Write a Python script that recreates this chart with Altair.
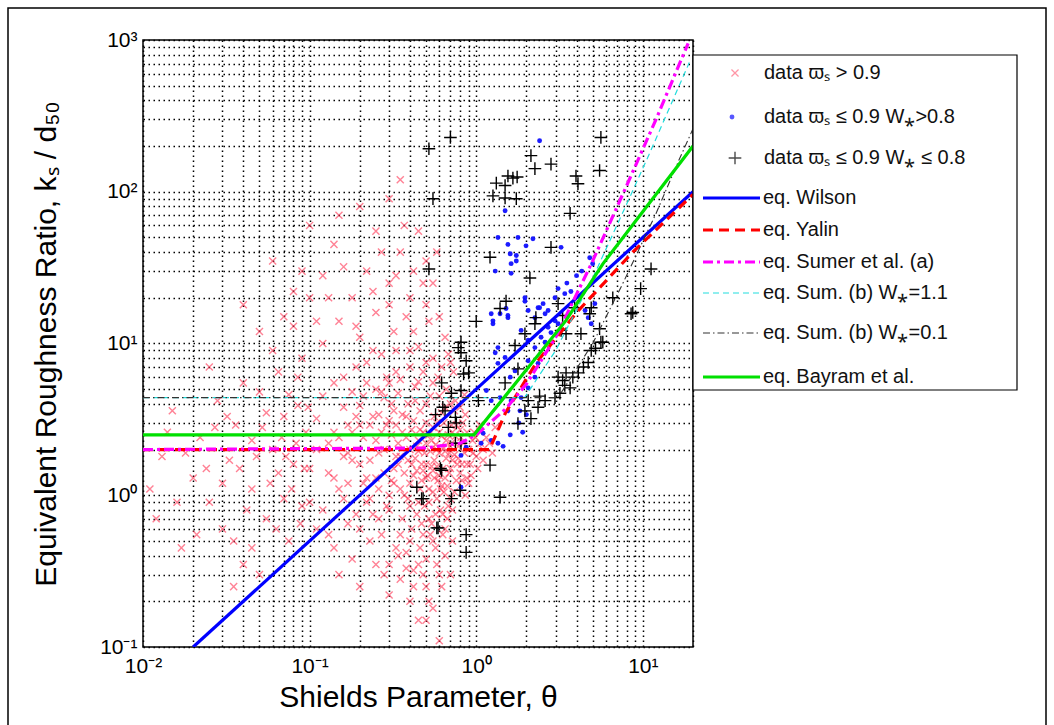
import altair as alt
import pandas as pd

# ---------------- data ----------------
red_points = [
    (0.35,1.8),(0.38,2.4),(0.4,1.2),(0.42,3.1),(0.45,0.9),(0.47,1.6),(0.5,2.2),(0.52,1.1),(0.55,2.8),(0.57,0.75),
    (0.6,1.9),(0.62,3.5),(0.65,1.3),(0.68,2.5),(0.7,0.95),(0.72,1.7),(0.75,4.2),(0.78,2.1),(0.8,1.4),(0.83,3.0),
    (0.85,1.9),(0.88,2.6),(0.9,1.2),(0.95,2.3),(1.0,1.8),(1.05,2.9),(1.1,2.0),(0.36,0.7),(0.41,0.6),(0.44,1.45),
    (0.48,0.55),(0.51,1.35),(0.54,0.65),(0.58,1.55),(0.61,0.8),(0.64,2.05),(0.67,1.15),(0.71,2.9),(0.74,1.05),(0.77,1.6),
    (0.81,2.4),(0.86,1.0),(0.92,1.6),(0.97,2.6),(0.33,2.9),(0.39,4.0),(0.43,5.2),(0.46,3.6),(0.53,4.5),(0.59,6.0),
    (0.66,5.0),(0.73,6.5),(0.46,0.45),(0.5,0.38),(0.55,0.5),(0.6,0.3),(0.42,0.32),(0.38,0.42),(0.65,0.6),(0.72,0.5),
    (0.48,2.6),(0.56,1.7),(0.63,1.5),(0.69,1.9),(0.76,2.9),(0.82,1.25),(0.88,1.6),(1.15,2.4),(1.2,2.2),(1.25,1.9),
    (1.3,2.8),(0.37,1.4),(0.4,2.0),(0.43,1.75),(0.45,2.3),(0.47,1.25),(0.49,1.9),(0.52,2.5),(0.54,1.55),(0.57,2.15),
    (0.59,1.25),(0.62,2.45),(0.64,1.05),(0.66,1.75),(0.69,1.4),(0.71,2.2),(0.74,1.85),(0.5,1.6),(0.53,1.95),(0.56,1.3),
    (0.44,0.75),(0.49,0.85),(0.52,0.7),(0.58,0.95),(0.61,1.1),(0.39,0.95),(0.41,1.6),(0.46,1.1),(0.55,1.05),(0.63,0.75),
    (0.3,0.8),(0.32,1.2),(0.34,1.6),(0.36,2.6),(0.38,3.3),(0.4,0.85),(0.42,1.35),(0.44,2.1),(0.46,2.7),(0.48,1.45),
    (0.5,3.0),(0.52,0.9),(0.54,2.3),(0.56,3.3),(0.58,2.0),(0.6,2.6),(0.62,1.15),(0.64,3.0),(0.66,2.3),(0.68,0.85),
    (0.7,1.5),(0.72,2.6),(0.74,3.6),(0.76,1.25),(0.78,1.75),(0.8,2.7),(0.82,1.6),(0.84,2.2),(0.86,3.4),(0.88,1.3),
    (0.9,2.0),(0.93,1.35),(0.96,1.9),(0.99,2.4),(1.02,1.5),(1.06,2.2),(1.1,1.7),(0.45,1.95),(0.5,1.3),(0.55,1.45),
    (0.6,1.35),(0.65,1.95),(0.7,2.1),(0.75,2.45),(0.47,0.65),(0.53,0.55),(0.57,0.45),(0.63,0.55),(0.67,0.7),(0.72,0.8),
    (0.4,0.5),(0.35,0.55),(0.33,0.45),(0.37,1.0),(0.39,1.7),(0.41,2.7),(0.43,4.2),(0.45,5.6),(0.5,4.0),(0.55,5.5),
    (0.6,4.5),(0.65,3.8),(0.7,4.0),(0.8,3.8),(0.85,4.6),(0.58,3.0),(0.62,7.0),(0.68,8.5),(0.5,7.5),(0.4,9.0),
    (0.1,1.5),(0.11,3.2),(0.12,0.8),(0.13,2.2),(0.14,5.5),(0.15,1.1),(0.16,3.8),(0.17,0.65),(0.18,2.6),(0.19,7.0),
    (0.2,1.6),(0.21,4.5),(0.22,0.9),(0.23,2.9),(0.24,9.0),(0.25,1.3),(0.26,3.4),(0.27,0.55),(0.28,2.0),(0.29,6.0),
    (0.3,1.0),(0.31,4.0),(0.32,12),(0.34,0.4),(0.12,10),(0.15,14),(0.2,11),(0.25,16),(0.3,18),(0.22,7.5),
    (0.27,8.5),(0.33,9),(0.14,0.45),(0.18,0.38),(0.23,0.5),(0.28,0.3),(0.16,1.8),(0.21,2.4),(0.26,1.9),(0.31,2.5),
    (0.11,0.6),(0.13,1.4),(0.17,1.2),(0.24,0.75),(0.29,0.85),(0.19,3.3),(0.27,2.6),(0.3,3.1),(0.32,1.5),(0.34,2.2),
    (0.25,5.0),(0.28,4.4),(0.33,6.5),(0.36,3.4),(0.35,5.8),(0.22,1.3),(0.18,1.7),(0.2,2.9),(0.16,0.95),(0.14,2.6),
    (0.1,0.9),(0.11,2.0),(0.12,4.5),(0.13,0.55),(0.14,1.3),(0.15,2.4),(0.16,6.0),(0.17,1.9),(0.18,4.8),(0.19,0.75),
    (0.2,3.9),(0.21,1.2),(0.22,5.5),(0.23,1.7),(0.24,3.3),(0.25,2.3),(0.26,1.1),(0.27,4.8),(0.28,1.4),(0.29,2.9),
    (0.3,5.5),(0.31,1.25),(0.32,3.6),(0.33,1.8),(0.34,4.7),(0.35,1.1),(0.26,0.7),(0.23,0.95),(0.2,0.6),(0.17,2.9),
    (0.012,0.7),(0.013,1.8),(0.015,3.6),(0.017,0.45),(0.02,1.3),(0.022,2.4),(0.025,0.9),(0.028,4.2),(0.03,0.6),(0.033,1.7),
    (0.036,2.9),(0.04,0.35),(0.045,1.1),(0.05,4.8),(0.055,0.7),(0.06,2.0),(0.065,1.4),(0.07,3.3),(0.075,0.5),(0.08,1.6),
    (0.085,6.0),(0.09,0.85),(0.095,2.6),(0.05,0.3),(0.035,0.25),(0.06,9.0),(0.045,2.3),(0.08,13),(0.07,0.95),(0.085,3.9),
    (0.011,1.1),(0.014,2.6),(0.016,0.9),(0.018,1.9),(0.021,0.55),(0.024,1.5),(0.027,2.8),(0.03,1.2),(0.032,3.3),(0.038,1.5),
    (0.042,0.8),(0.048,1.8),(0.052,2.8),(0.058,1.2),(0.063,0.6),(0.068,2.4),(0.072,1.8),(0.078,1.1),(0.083,2.2),(0.088,0.65),
    (0.093,1.5),(0.098,3.8),(0.04,5.5),(0.065,6.5),(0.09,8.0),(0.025,7.0),(0.055,3.5),(0.075,4.6),(0.035,0.5),(0.045,0.45),
    (0.06,35),(0.08,22),(0.1,60),(0.12,28),(0.14,45),(0.18,20),(0.22,30),(0.3,25),(0.35,40),(0.4,20),
    (0.45,55),(0.5,35),(0.38,15),(0.42,12),(0.5,18),(0.55,25),(0.6,15),(0.3,90),(0.2,80),(0.04,18),
    (0.05,12),(0.1,20),(0.45,9.5),(0.55,8.0),(0.65,11),(0.7,7.5),(0.4,7.0),(0.48,6.5),
    (0.07,15),(0.09,30),(0.11,14),(0.13,20),(0.16,32),(0.19,13),(0.24,22),(0.27,40),(0.33,28),(0.37,60),
    (0.42,30),(0.48,25),(0.52,14),(0.58,40),(0.25,55),(0.15,70),(0.35,120),
    (0.4,0.2),(0.45,0.15),(0.5,0.25),(0.55,0.18),(0.3,0.22),(0.6,0.11),(0.35,0.28),(0.25,0.35),(0.65,0.4),(0.7,0.3),
    (0.42,0.25),(0.48,0.3),(0.52,0.2),(0.58,0.35),(0.5,0.15),(0.38,0.33),(0.45,0.35),(0.62,0.25),(0.3,0.35),(0.2,0.25),
    (0.15,0.3),
]

blue_points = [
    (2.4,217),(1.49,75),(1.35,50),(1.55,45),(1.78,50),(2.19,49),(1.99,44),(3.23,43),(1.6,39),(1.74,35),
    (1.3,30),(1.62,29),(1.96,20),(1.23,15.7),(1.26,13.5),(1.51,17),(1.55,14.8),(2.35,17.2),(2.52,18.3),(2.7,16.5),
    (2.97,20),(3.1,23),(3.4,21.3),(2.25,14.8),(1.86,12.2),(2.05,10.5),(2.25,9.4),(2.59,10.2),(2.81,11.8),(3.1,13.5),
    (4.5,16.5),(4.7,14.8),(4.9,13.5),(5.15,18.3),(4.8,36.7),(5.0,33.6),(1.35,9.4),(1.26,14.1),(1.39,15.7),(1.55,15.3),
    (2.05,16.5),(2.4,17.2),(2.59,15.7),(1.3,8.7),(1.35,7.4),(1.49,8.1),(1.6,6.0),(1.71,6.6),(1.15,4.9),(1.23,4.2),
    (1.39,4.4),(2.05,5.1),(2.25,6.0),(2.35,7.4),(2.05,7.7),(0.87,2.07),(1.07,2.2),(1.23,2.3),(1.35,2.2),(1.62,4.2),
    (1.83,3.6),(1.55,3.6),(1.86,4.4),(0.81,1.83),(0.81,1.13),(1.1,2.56),(2.7,12.8),(2.97,14.1),(3.18,11.8),(2.45,11.0),
    (1.74,38),(1.62,33.6),(1.96,19),(1.6,2.5),(1.8,3.0),(2.0,3.4),(1.45,2.1),(1.9,2.6),(3.5,25),(4.0,28),
    (3.7,22),(4.3,30),
]

black_points = [
    (0.70,228),(0.52,192),(0.55,90),(2.13,173),(2.25,142),(2.81,152),(5.6,228),(5.5,138),(3.97,127),(4.08,113),
    (1.55,127),(1.66,123),(1.76,125),(1.32,114),(1.49,110),(1.26,94),(1.49,91),(1.74,90),
    (3.66,72),(2.81,43),(1.21,37),(0.52,31),(2.1,27),(11.2,31),(9.7,23),(6.6,20),(8.5,15.7),
    (1.39,17),(1.51,19),(1.0,14),(0.81,10.2),(0.81,8.7),(1.96,11.6),(1.71,9.7),(4.25,11.6),(5.5,12.5),(5.6,10.2),
    (4.9,9.0),(3.23,12.2),(3.1,18.3),(2.28,14.8),(2.25,13.5),(4.9,17.2),(4.8,15.7),(3.9,17.2),(3.46,11.6),
    (0.87,7.7),(0.90,6.4),(0.62,5.5),(0.81,4.9),(1.03,4.2),(0.63,3.8),(0.75,3.26),(0.57,3.4),(0.68,2.8),(1.78,6.8),
    (1.49,5.5),(3.1,6.0),(3.4,5.3),(2.97,4.4),(2.59,4.2),(2.35,3.8),(2.05,4.2),(1.78,2.97),(2.13,3.2),(1.96,3.6),
    (2.4,4.5),(1.21,1.58),(0.62,1.46),(0.81,2.2),(0.61,1.5),(0.47,0.95),(0.71,0.95),(0.80,1.08),(1.39,0.97),(0.59,0.61),
    (0.87,0.55),(0.87,0.42),(0.78,9.4),(0.84,6.3),(0.71,4.7),(0.65,3.6),(0.76,3.0),(0.75,2.2),(0.44,1.13),(0.48,0.95),
    (0.58,0.61),(8.7,16),(5.75,10.2),(5.2,9.3),(4.7,7.5),(4.4,7.0),(4.1,6.4),(3.8,6.0),(3.46,6.4),(3.3,5.7),
    (3.66,5.1),(3.18,4.7),(3.3,15.3),
]

wilson_theta = [0.02, 20]
wilson_ks = [0.1, 100]
yalin_theta = [0.01, 1.2, 1.5, 2.3, 4.0, 8.7, 20]
yalin_ks = [2, 2, 3.5, 7.5, 16, 40, 96]
sumer_a_theta = [0.01, 0.5, 0.8, 1.0, 1.5, 2.0, 3.0, 5.0, 8.0, 12.0, 17.5, 18.7]
sumer_a_ks = [2, 2.05, 2.2, 2.5, 3.7, 5.4, 11, 35, 110, 300, 800, 950]
sumb11_theta = [0.01, 1.95, 3.0, 5.0, 8.0, 11.0, 14.0, 19.0]
sumb11_ks = [4.4, 4.4, 9, 27, 83, 180, 330, 710]
sumb01_theta = [0.01, 3.1, 5.0, 7.6, 12.0, 16.4, 20.0]
sumb01_ks = [4.4, 4.4, 10, 25, 72, 160, 260]
bayram_theta = [0.01, 0.97, 3.46, 5.77, 20]
bayram_ks = [2.5, 2.5, 14.2, 33.6, 200]

x_grid = [0.01,0.02,0.03,0.04,0.05,0.06,0.07,0.08,0.09,
          0.1,0.2,0.3,0.4,0.5,0.6,0.7,0.8,0.9,
          1,2,3,4,5,6,7,8,9,10,20]
y_grid = [0.1,0.2,0.3,0.4,0.5,0.6,0.7,0.8,0.9,
          1,2,3,4,5,6,7,8,9,
          10,20,30,40,50,60,70,80,90,
          100,200,300,400,500,600,700,800,900,1000]
x_labels = {0.01: "10⁻²", 0.1: "10⁻¹", 1: "10⁰", 10: "10¹"}
y_labels = {0.1: "10⁻¹", 1: "10⁰", 10: "10¹", 100: "10²", 1000: "10³"}

legend_labels = [
    "data ϖₛ > 0.9",
    "data ϖₛ ≤ 0.9 W⁎>0.8",
    "data ϖₛ ≤ 0.9 W⁎ ≤ 0.8",
    "eq. Wilson",
    "eq. Yalin",
    "eq. Sumer et al. (a)",
    "eq. Sum. (b) W⁎=1.1",
    "eq. Sum. (b) W⁎=0.1",
    "eq. Bayram et al.",
]

# ---------------- chart ----------------
FONT = "Liberation Sans"
W, H = 550, 607
PAD_L, PAD_T = 143, 40


def label_expr(d):
    parts = [f"datum.value == {k} ? '{v}'" for k, v in d.items()]
    return " : ".join(parts) + " : ''"


xs = alt.Scale(type="log", domain=[0.01, 20], nice=False)
ys = alt.Scale(type="log", domain=[0.1, 1000], nice=False)

grid_kw = dict(grid=True, gridColor="black", gridDash=[1.5, 3.5], gridWidth=1.5, gridOpacity=1,
               ticks=False, domain=False)
xaxis = alt.Axis(values=x_grid, labelExpr=label_expr(x_labels), **grid_kw,
                 labelFont=FONT, labelFontSize=21, labelColor="black", labelPadding=8,
                 title="Shields Parameter, θ", titleFont=FONT, titleFontSize=30,
                 titleFontWeight="normal", titleColor="black", titlePadding=6, labelFlush=False)
yaxis = alt.Axis(values=y_grid, labelExpr=label_expr(y_labels), **grid_kw,
                 labelFont=FONT, labelFontSize=21, labelColor="black", labelPadding=6,
                 title="Equivalent Roughness Ratio, kₛ / d₅₀", titleFont=FONT, titleFontSize=30,
                 titleFontWeight="normal", titleColor="black", titlePadding=38, labelFlush=False)

X = alt.X("theta:Q", scale=xs, axis=xaxis)
Y = alt.Y("ks:Q", scale=ys, axis=yaxis)


def pts_df(pts):
    return pd.DataFrame({"theta": [p[0] for p in pts], "ks": [p[1] for p in pts]})


def line_df(t, k):
    return pd.DataFrame({"theta": t, "ks": k, "o": list(range(len(t)))})


XSHAPE = "M-1,-1L1,1M-1,1L1,-1"
PLUS = "M-1,0L1,0M0,-1L0,1"
RED = "#ff3050"

red_layer = alt.Chart(pts_df(red_points)).mark_point(
    shape=XSHAPE, filled=False, size=50, color=RED, opacity=0.6, strokeWidth=1.4, clip=True
).encode(x=X, y=Y)
blue_layer = alt.Chart(pts_df(blue_points)).mark_circle(
    size=24, color="#1010ff", opacity=0.95, clip=True
).encode(x=X, y=Y)
black_layer = alt.Chart(pts_df(black_points)).mark_point(
    shape=PLUS, filled=False, size=160, color="black", strokeWidth=1.4, opacity=1, clip=True
).encode(x=X, y=Y)

line_specs = [
    (wilson_theta, wilson_ks, "#0000ff", 3.2, None),
    (yalin_theta, yalin_ks, "#ff0000", 3.2, [10, 6]),
    (sumer_a_theta, sumer_a_ks, "#ff00ff", 3.2, [10, 4, 3, 4]),
    (sumb11_theta, sumb11_ks, "#22dddd", 1.2, [6, 4]),
    (sumb01_theta, sumb01_ks, "#333333", 1.1, [7, 3, 1.5, 3]),
    (bayram_theta, bayram_ks, "#00e000", 3.2, None),
]
line_layers = []
for t, k, col, sw, dash in line_specs:
    kw = dict(color=col, strokeWidth=sw, clip=True)
    if dash:
        kw["strokeDash"] = dash
    line_layers.append(alt.Chart(line_df(t, k)).mark_line(**kw).encode(x=X, y=Y, order="o:Q"))

# ---------------- legend (drawn) ----------------
LX0, LX1, LY0, LY1 = 693 - PAD_L, 1017 - PAD_L, 55 - PAD_T, 390 - PAD_T
row_y = [73, 117, 158, 198, 230, 262, 293, 333, 377]
legend_layers = []
legend_layers.append(alt.Chart().mark_rect(fill="white", stroke="black", strokeWidth=1.2).encode(
    x=alt.value(LX0), x2=alt.value(LX1), y=alt.value(LY0), y2=alt.value(LY1)))
for i, lab in enumerate(legend_labels):
    yy = row_y[i] - PAD_T
    tx = (764 if i < 3 else 763) - PAD_L
    legend_layers.append(alt.Chart().mark_text(
        align="left", baseline="middle", font=FONT, fontSize=20, color="#111"
    ).encode(x=alt.value(tx), y=alt.value(yy), text=alt.value(lab)))

mx = 735 - PAD_L
legend_layers.append(alt.Chart().mark_point(shape=XSHAPE, filled=False, size=50, color=RED,
                                            opacity=0.5, strokeWidth=1.3).encode(
    x=alt.value(mx), y=alt.value(row_y[0] - PAD_T)))
legend_layers.append(alt.Chart().mark_circle(size=24, color="#1010ff").encode(
    x=alt.value(mx - 3), y=alt.value(row_y[1] - PAD_T)))
legend_layers.append(alt.Chart().mark_point(shape=PLUS, filled=False, size=160, color="black",
                                            strokeWidth=1.4).encode(
    x=alt.value(mx), y=alt.value(row_y[2] - PAD_T)))
for j, (t, k, col, sw, dash) in enumerate(line_specs):
    yy = row_y[3 + j] - PAD_T
    kw = dict(color=col, strokeWidth=sw)
    if dash:
        kw["strokeDash"] = dash
    legend_layers.append(alt.Chart().mark_rule(**kw).encode(
        x=alt.value(703 - PAD_L), x2=alt.value(760 - PAD_L), y=alt.value(yy)))

# outer figure frame
frame = alt.Chart().mark_rect(fill=None, stroke="black", strokeWidth=1.5).encode(
    x=alt.value(8 - PAD_L), x2=alt.value(1046 - PAD_L), y=alt.value(8 - PAD_T), y2=alt.value(760 - PAD_T))

chart = alt.layer(
    red_layer, blue_layer, black_layer, *line_layers, *legend_layers, frame
).properties(
    width=W, height=H,
    padding={"left": PAD_L, "top": PAD_T, "right": 1054 - PAD_L - W, "bottom": 725 - PAD_T - H},
    autosize=alt.AutoSizeParams(type="none"),
    background="white",
).configure_view(stroke="black", strokeWidth=1.5)

chart.save("out.html", embed_options={"renderer": "svg", "actions": False})
